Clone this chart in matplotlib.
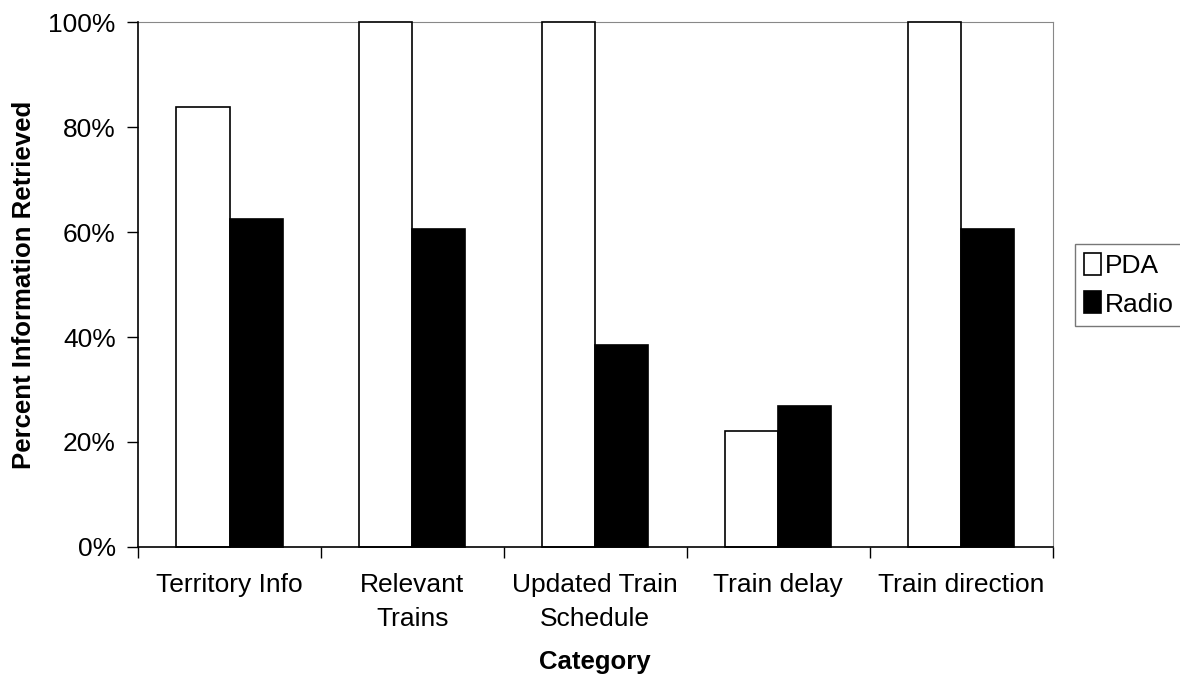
import numpy as np
import matplotlib
matplotlib.use("Agg")
import matplotlib.pyplot as plt
from matplotlib.ticker import FixedLocator, PercentFormatter

plt.rcParams['font.family'] = ['Liberation Sans', 'DejaVu Sans']

categories = ["Territory Info", "Relevant\nTrains", "Updated Train\nSchedule",
              "Train delay", "Train direction"]
pda = [83.9, 100, 100, 22.1, 100]
radio = [62.5, 60.7, 38.4, 26.9, 60.7]

fs = 19

fig = plt.figure(figsize=(11.8, 6.81), dpi=100)
ax = fig.add_axes([0.117, 0.197, 0.775, 0.770])

x = np.arange(len(categories))
w = 0.29
ax.bar(x - w / 2, pda, w, color="white", edgecolor="black", linewidth=1.2,
       label="PDA", clip_on=False, zorder=3)
ax.bar(x + w / 2, radio, w, color="black", edgecolor="black", linewidth=1.2,
       label="Radio", clip_on=False, zorder=3)

ax.set_xlim(-0.5, len(categories) - 0.5)
ax.set_ylim(0, 100)
ax.set_yticks(np.arange(0, 101, 20))
ax.yaxis.set_major_formatter(PercentFormatter(decimals=0))

ax.set_xticks(x)
ax.set_xticklabels(categories, linespacing=1.5)
ax.xaxis.set_minor_locator(FixedLocator(np.arange(-0.5, len(categories), 1.0)))
ax.tick_params(axis="x", which="major", length=0, pad=19, labelsize=fs)
ax.tick_params(axis="x", which="minor", length=8, width=1, direction="out")
ax.tick_params(axis="y", length=8, width=1, direction="out", pad=8, labelsize=fs)

for side in ["top", "right"]:
    ax.spines[side].set_color("#888888")
for side in ["left", "bottom"]:
    ax.spines[side].set_color("black")
    ax.spines[side].set_linewidth(1.2)
    ax.spines[side].set_zorder(4)

ax.set_ylabel("Percent Information Retrieved", fontsize=fs - 0.5, fontweight="bold", labelpad=9)
ax.set_xlabel("Category", fontsize=fs - 0.5, fontweight="bold", labelpad=14)

fig.legend(loc="upper left", bbox_to_anchor=(1075 / 1180, 1 - 244 / 681),
           frameon=True, fancybox=False, edgecolor="#555555", fontsize=fs,
           handlelength=0.65, handleheight=0.9, handletextpad=0.15,
           borderpad=0.35, labelspacing=0.5, borderaxespad=0)

fig.savefig("out.png", dpi=100, facecolor="white")
